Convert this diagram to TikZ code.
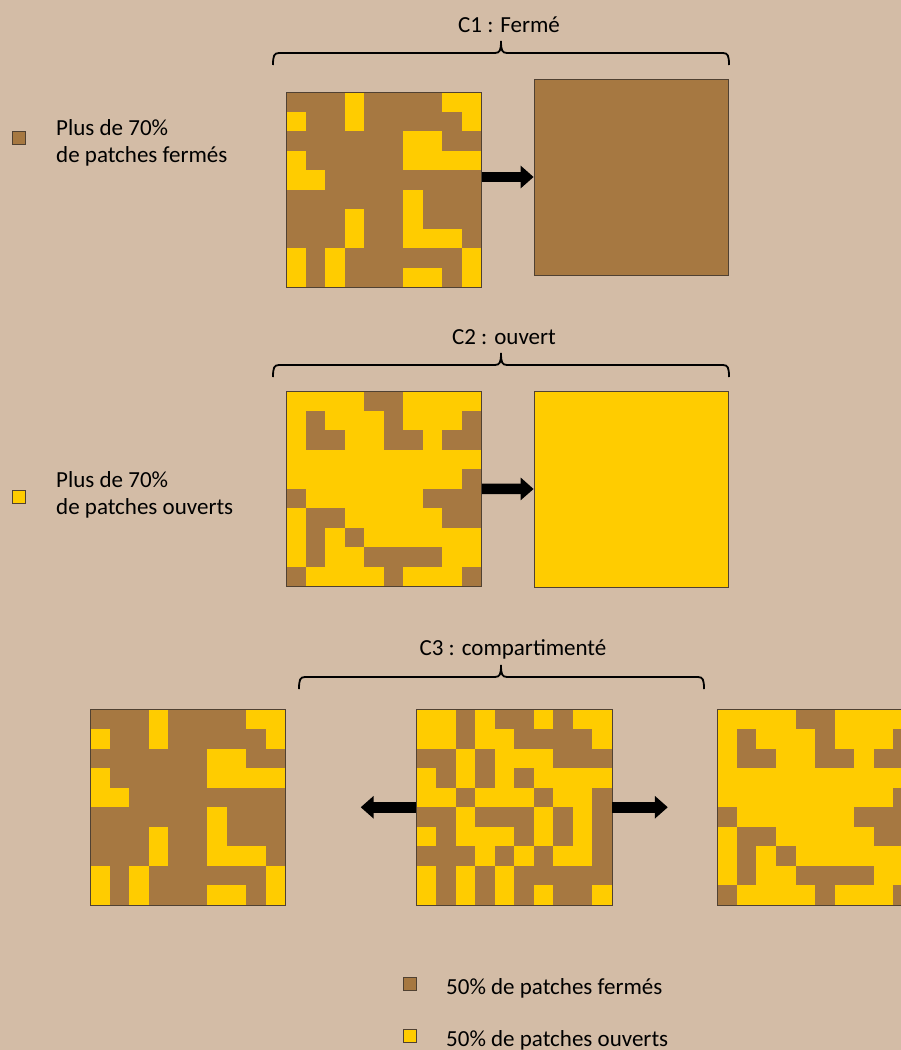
\documentclass[tikz,border=0pt]{standalone}
\usepackage{fontspec}
\setmainfont{Carlito}
\usetikzlibrary{arrows.meta}
\definecolor{bg}{RGB}{211,188,166}
\definecolor{closedc}{RGB}{166,120,65}
\definecolor{openc}{RGB}{255,204,0}
\definecolor{framec}{RGB}{80,65,50}
\newcommand\patchgrid[5]{%
  \fill[#3] (#1,#2) rectangle ++(195.5,195.5);
  \foreach \r/\cs in {#5} {\foreach \c in \cs {\fill[#4] ({#1+\c*19.55},{#2+\r*19.55}) rectangle ++(19.55,19.55);}}%
}
\tikzset{
  gridbox/.style={minimum size=195.5pt, inner sep=0pt, draw=framec, line width=0.8pt},
  solidbox/.style={minimum width=194pt, minimum height=196pt, inner sep=0pt, draw=framec, line width=0.8pt},
  bigarrow/.style={line width=10.5pt, -{Triangle[length=13pt,width=22pt]}},
  legsq/.style={minimum size=13pt, inner sep=0pt, draw=framec, line width=0.6pt},
  legtxt/.style={anchor=base west, align=left, inner sep=0pt, font=\fontsize{23}{27}\selectfont},
  ttl/.style={anchor=base, inner sep=0pt, font=\fontsize{23}{27}\selectfont},
  bracel/.style={line width=1.8pt, black}
}
\newcommand\curlybr[4]{% x1 x2 xm y
  \draw[bracel] (#1,#4+12) .. controls (#1,#4+3) and (#1+1,#4) .. (#1+6,#4) -- (#3-6,#4)
    .. controls (#3-1,#4) and (#3,#4-3) .. (#3,#4-12)
    .. controls (#3,#4-3) and (#3+1,#4) .. (#3+6,#4) -- (#2-6,#4)
    .. controls (#2-1,#4) and (#2,#4+3) .. (#2,#4+12);
}
\begin{document}
\begin{tikzpicture}[x=1pt,y=-1pt]
\path[use as bounding box, fill=bg] (0,0) rectangle (901,1050);
\clip (0,0) rectangle (901,1050);

% ---------- C1 ----------
\node[ttl] (t1) at (509,32) {C1 : Fermé};
\curlybr{273}{729}{501}{53}
\patchgrid{286}{92}{closedc}{openc}{0/{3,8,9},1/{0,3,9},2/{6,7},3/{0,6,7,8,9},4/{0,1},5/{6},6/{3,6},7/{3,6,7,8},8/{0,2,9},9/{0,2,6,7,9}}
\node[gridbox] (g1) at (383.75,189.75) {};
\node[solidbox, fill=closedc] (b1) at (631,177) {};
\draw[bigarrow] (g1.east |- b1.west) -- (b1.west);

% ---------- C2 ----------
\node[ttl] (t2) at (504,344) {C2 : ouvert};
\curlybr{273}{729}{501}{365}
\patchgrid{286}{391}{openc}{closedc}{0/{4,5},1/{1,5,9},2/{1,2,5,6,8,9},4/{9},5/{0,7,8,9},6/{1,2,8,9},7/{1,3},8/{1,4,5,6,7},9/{0,5,9}}
\node[gridbox] (g2) at (383.75,488.75) {};
\node[solidbox, fill=openc] (b2) at (631,489) {};
\draw[bigarrow] (g2.east) -- (b2.west);

% ---------- C3 ----------
\node[ttl] (t3) at (513,655) {C3 : compartimenté};
\curlybr{299}{704}{501}{677}
\patchgrid{90}{709.5}{closedc}{openc}{0/{3,8,9},1/{0,3,9},2/{6,7},3/{0,6,7,8,9},4/{0,1},5/{6},6/{3,6},7/{3,6,7,8},8/{0,2,9},9/{0,2,6,7,9}}
\node[gridbox] (g3) at (187.75,807.25) {};
\patchgrid{416.5}{709.5}{closedc}{openc}{0/{0,1,3,6,8,9},1/{0,1,3,4,9},2/{2,4,5,6},3/{0,2,4,6,7,8,9},4/{0,1,3,4,5,7,8},5/{2,6,8},6/{0,2,3,4,6,8},7/{3,5,7,8},8/{0,2,4},9/{0,2,4,6,9}}
\node[gridbox] (g4) at (514.25,807.25) {};
\patchgrid{717.3}{709.5}{openc}{closedc}{0/{4,5},1/{1,5,9},2/{1,2,5,6,8,9},4/{9},5/{0,7,8,9},6/{1,2,8,9},7/{1,3},8/{1,4,5,6,7},9/{0,5,9}}
\node[gridbox] (g5) at (815.05,807.25) {};
\coordinate (la) at (360.7,807.25);
\coordinate (ra) at (667.8,807.25);
\draw[bigarrow] (g4.west) -- (la);
\draw[bigarrow] (g4.east) -- (ra);

% ---------- legends ----------
\node[legsq, fill=closedc] (k1) at (19,138) {};
\node[legtxt] (k1t) at (56,162) {Plus de 70\%\\de patches fermés};
\node[legsq, fill=openc] (k2) at (19,497) {};
\node[legtxt] (k2t) at (56,514) {Plus de 70\%\\de patches ouverts};
\node[legsq, fill=closedc] (k3) at (409.75,983.7) {};
\node[legtxt] (k3t) at (446,994.3) {50\% de patches fermés};
\node[legsq, fill=openc] (k4) at (409.75,1035.3) {};
\node[legtxt] (k4t) at (446,1046) {50\% de patches ouverts};
\end{tikzpicture}
\end{document}
